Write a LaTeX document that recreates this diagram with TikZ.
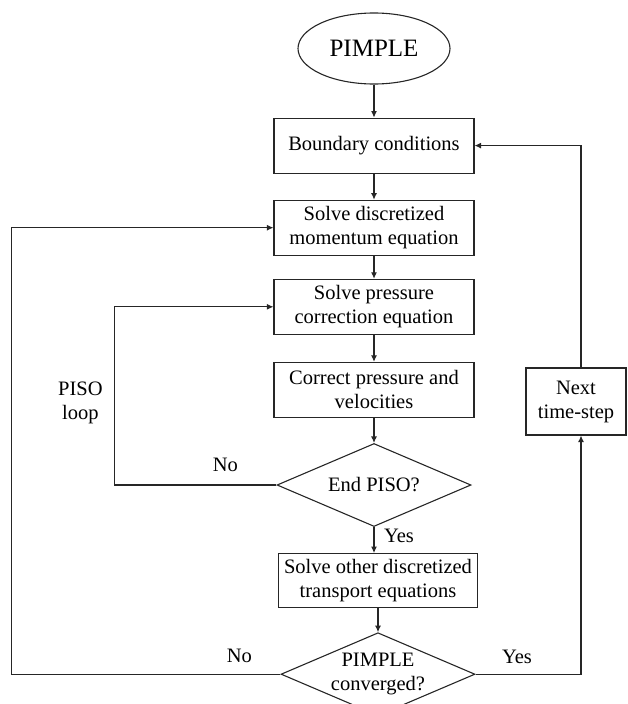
\documentclass[tikz,border=0pt]{standalone}
\usepackage{fontspec}
\setmainfont{Liberation Serif}
\usepackage{tikz}
\usetikzlibrary{arrows.meta,positioning,calc,shapes.geometric}

\begin{document}
\begin{tikzpicture}[
          stepbox/.style={draw=black!85, line width=1.1pt, minimum width=200pt, minimum height=55pt, align=center, font=\fontsize{20.5}{24}\selectfont},
          start/.style={draw=black!85, line width=1.1pt, ellipse, minimum width=152pt, minimum height=71pt, font=\fontsize{25}{28}\selectfont},
          check/.style={draw=black!85, line width=1.1pt, diamond, aspect=2.3, inner sep=0pt, minimum width=194pt, minimum height=83pt, align=center, font=\fontsize{20.5}{24}\selectfont},
          lbl/.style={align=center, font=\fontsize{20.5}{24}\selectfont},
          arr/.style={-{Latex[length=6.5pt, width=6pt]}, line width=1.1pt, draw=black!85}]
        \useasboundingbox (0,0) rectangle (627pt,-704pt);
        \node[start] (pimple) at (374pt,-48.5pt) {PIMPLE};
        \node[stepbox, below=33pt of pimple] (bc) {Boundary conditions};
        \node[stepbox, below=26pt of bc] (mom) {Solve discretized\\momentum equation};
        \node[stepbox, below=23pt of mom] (pres) {Solve pressure\\correction equation};
        \node[stepbox, below=27pt of pres] (corr) {Correct pressure and\\velocities};
        \node[check, below=25pt of corr] (piso) {End PISO?};
        \node[stepbox, minimum width=199pt, minimum height=54pt, below=26pt of piso, xshift=4pt] (trans) {Solve other discretized\\transport equations};
        \node[check, below=24pt of trans] (conv) {PIMPLE\\converged?};
        \node[stepbox, minimum width=100pt, minimum height=67pt] (next) at (576pt,-401.5pt) {Next\\time-step};
        \draw[arr] (pimple) -- (bc);
        \draw[arr] (bc) -- (mom);
        \draw[arr] (mom) -- (pres);
        \draw[arr] (pres) -- (corr);
        \draw[arr] (corr) -- (piso);
        \draw[arr] (piso.south) -- (piso.south |- trans.north);
        \draw[arr] (trans) -- (conv);
        \draw[arr] (piso.west) -- ++(-162pt,0) |- (pres.west);
        \draw[arr] (conv.west) -- ++(-269pt,0) |- (mom.west);
        \draw[arr] (conv.east) -| ([xshift=5pt]next.south);
        \draw[arr] ([xshift=5pt]next.north) |- (bc.east);
        \node[lbl] (pisoloop) at ($(piso.west)+(-196pt,82pt)$) {PISO\\loop};
        \node[lbl] (nopiso) at ($(piso.west)+(-51pt,20pt)$) {No};
        \node[lbl] (yespiso) at ($(piso.south)+(25pt,-9pt)$) {Yes};
        \node[lbl] (noconv) at ($(conv.west)+(-41pt,18.5pt)$) {No};
        \node[lbl] (yesconv) at ($(conv.east)+(41.5pt,17pt)$) {Yes};
      \end{tikzpicture}
\end{document}
